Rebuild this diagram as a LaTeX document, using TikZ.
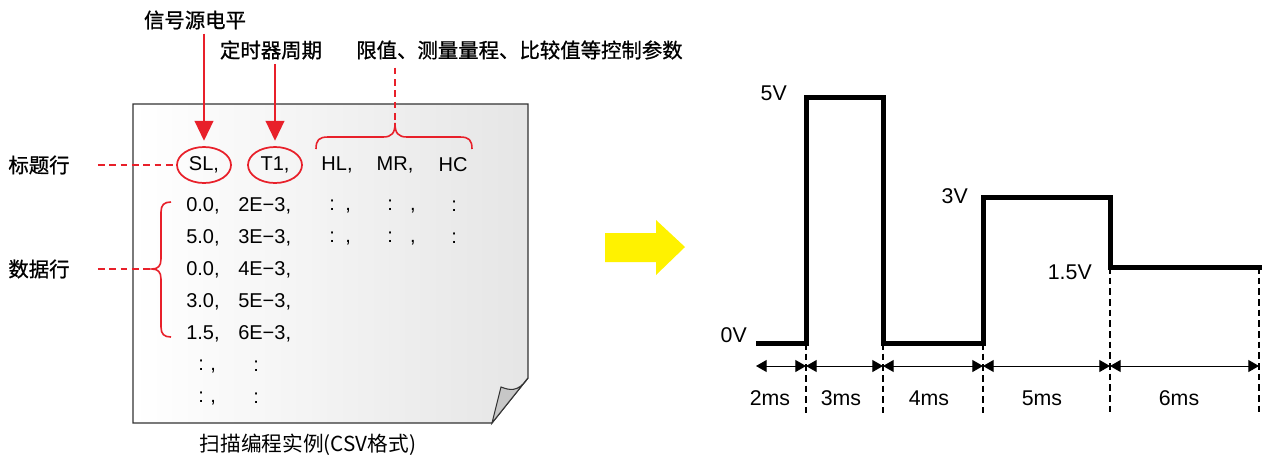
\documentclass[tikz,border=0pt]{standalone}
\usepackage{fontspec}
\setmainfont{Liberation Sans}
\newfontfamily\cjk{Noto Sans CJK SC}
\newfontfamily\cjkmed{Noto Sans CJK SC}[FakeBold=0.9]
\usetikzlibrary{arrows.meta,shapes.geometric}
\definecolor{mark}{HTML}{E8202A}
\definecolor{arrowyellow}{HTML}{FFF200}

\begin{document}
\begin{tikzpicture}[x=0.75pt,y=-0.75pt,
    every node/.style={inner sep=0pt},
    cjk label/.style={font=\cjkmed\fontsize{15.3}{18}\selectfont},
    caption/.style={font=\cjk\fontsize{15.5}{18}\selectfont},
    csv/.style={font=\fontsize{15}{18}\selectfont},
    wave label/.style={font=\fontsize{16}{19}\selectfont},
    red arrow/.style={color=mark,line width=1.5pt,-{Triangle[length=15pt,width=14pt]},shorten >=4pt,shorten <=3pt},
    red dash/.style={draw=mark,line width=1pt,dash pattern=on 5pt off 3.5pt},
    brace/.style={draw=mark,line width=1.2pt},
    oval/.style={ellipse,draw=mark,line width=1.3pt,minimum width=40.5pt,minimum height=27pt,font=\fontsize{15}{18}\selectfont},
    wave/.style={line width=3.75pt,miter limit=4},
    tick/.style={line width=1pt,dash pattern=on 5pt off 3pt},
    dim/.style={line width=0.75pt,{Triangle[length=8pt,width=9pt]}-{Triangle[length=8pt,width=9pt]}}]

  \useasboundingbox (0,0) rectangle (1262,458);

  % paper with curled corner
  \draw[draw=black!80,line width=0.8pt,left color=white,right color=black!10]
    (133,104) -- (528,104) -- (528,378) -- (492,423) -- (133,423) -- cycle;
  \draw[draw=black!80,line width=0.8pt,fill=black!22]
    (528,378) .. controls (518,393) and (509,390) .. (501,387) -- (492,423) -- cycle;

  % labels above and left
  \node[cjk label] (src) at (195,20) {信号源电平};
  \node[cjk label] (tmr) at (271,50) {定时器周期};
  \node[cjk label,anchor=west] (ctl) at (356,50) {限值、测量量程、比较值等控制参数};
  \node[cjk label] (hdr) at (39,165) {标题行};
  \node[cjk label] (dat) at (39,269) {数据行};

  % header row
  \node[oval] (sl) at (204,165) {SL,};
  \node[oval] (t1) at (275,165) {T1,};
  \node[csv] (hl) at (337,165) {HL,};
  \node[csv] (mr) at (395,165) {MR,};
  \node[csv] (hc) at (453,165) {HC};

  % data rows
  \foreach \a/\b [count=\i] in {0.0/2E−3,5.0/3E−3,0.0/4E−3,3.0/5E−3,1.5/6E−3} {
    \node[csv,anchor=west] (a\i) at (186,174+32*\i) {\a,};
    \node[csv,anchor=west] (b\i) at (238,174+32*\i) {\b,};
  }
  \foreach \i in {1,2} {
    \node[csv,anchor=west] (c\i) at (329,174+32*\i) {:\hspace{8pt},};
    \node[csv,anchor=west] (d\i) at (387,174+32*\i) {:\hspace{13pt},};
    \node[csv,anchor=west] (e\i) at (451,174+32*\i) {:};
  }
  \foreach \i in {6,7} {
    \node[csv,anchor=west] (a\i) at (198,174+32*\i) {:\hspace{5pt},};
    \node[csv,anchor=west] (b\i) at (253,174+32*\i) {:};
  }

  \node[caption] (cap) at (308,445) {扫描编程实例(CSV格式)};

  % pointers
  \draw[red arrow] (sl.north |- src.south) -- (sl.north);
  \draw[red arrow] (t1.north |- tmr.south) -- (t1.north);

  \coordinate (ctltip) at (395,123);
  \coordinate (dattip) at (152,269);
  \draw[red dash,shorten <=6pt] (ctltip |- ctl.south) -- (ctltip);
  \draw[red dash,shorten <=21pt] (hdr.east) -- (sl.west);
  \draw[red dash,shorten <=21pt] (dat.east) -- (dattip);

  \draw[brace] (316,149) .. controls (316,140) and (319,137) .. (328,137) -- (383,137)
    .. controls (392,137) and (395,133) .. (ctltip)
    .. controls (395,133) and (398,137) .. (407,137) -- (460,137)
    .. controls (469,137) and (472,140) .. (472,149);
  \draw[brace] (171,202) .. controls (164,202) and (161,205) .. (161,212) -- (161,259)
    .. controls (161,266) and (158,269) .. (dattip)
    .. controls (158,269) and (161,272) .. (161,279) -- (161,327)
    .. controls (161,334) and (164,337) .. (171,337);

  % yellow arrow
  \fill[arrowyellow] (605,233) -- (656,233) -- (656,220) -- (685,247)
    -- (656,275) -- (656,262) -- (605,262) -- cycle;

  % waveform
  \draw[wave] (756,343) -- (806,343) -- (806,97) -- (883,97) -- (883,343)
    -- (983,343) -- (983,197) -- (1110,197) -- (1110,267) -- (1262,267);

  \node[wave label,anchor=east] (v5) at (787,93) {5V};
  \node[wave label,anchor=east] (v3) at (968,196) {3V};
  \node[wave label,anchor=east] (v15) at (1092,272) {1.5V};
  \node[wave label,anchor=east] (v0) at (747,335) {0V};

  \foreach \x/\top in {806/343,883/343,983/343,1110/267,1259/267}
    \draw[tick] (\x,\top) -- (\x,413);

  \foreach \x [count=\i from 0] in {756,806,883,983,1110,1259}
    \coordinate (t\i) at (\x,366);
  \foreach \a/\b in {0/1,1/2,2/3,3/4,4/5}
    \draw[dim] (t\a) -- (t\b);

  \foreach \x/\t [count=\i] in {770/2ms,841/3ms,929/4ms,1042/5ms,1179/6ms}
    \node[wave label] (ms\i) at (\x,398) {\t};
\end{tikzpicture}
\end{document}
